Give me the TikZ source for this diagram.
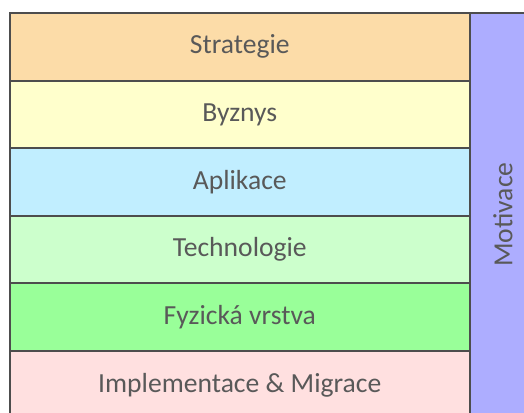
\documentclass[tikz,border=0pt]{standalone}
\usepackage{fontspec}
\setmainfont{Carlito}
\definecolor{edgegray}{HTML}{4D4D4D}
\definecolor{labelgray}{HTML}{595959}
\definecolor{strategiecol}{HTML}{FCDCA8}
\definecolor{byznyscol}{HTML}{FFFFCC}
\definecolor{aplikacecol}{HTML}{C1EEFF}
\definecolor{technologiecol}{HTML}{CCFFCC}
\definecolor{fyzickacol}{HTML}{99FF99}
\definecolor{implcol}{HTML}{FFE0E0}
\definecolor{motivacecol}{HTML}{ADADFF}
\begin{document}
\begin{tikzpicture}[x=1bp, y=-1bp,
  layer/.style={draw=edgegray, line width=2bp, anchor=north west, inner sep=0pt,
    minimum width=459.5bp, minimum height=67.6bp, text=labelgray,
    font=\fontsize{27.6bp}{30bp}\selectfont}]
\useasboundingbox (0,0) rectangle (524,412);
\clip (0,0) rectangle (524,412);
\node[draw=edgegray, fill=motivacecol, line width=2bp, anchor=north west, inner sep=0pt,
  minimum width=72bp, minimum height=410bp] (motivbox) at (468.5,12) {};
\node[text=labelgray, rotate=90, font=\fontsize{27.6bp}{30bp}\selectfont] (motivace) at (503,214.5) {Motivace};
\node[layer, fill=strategiecol] (strategie) at (9,12) {Strategie};
\node[layer, fill=byznyscol] (byznys) at (9,79.6) {Byznys};
\node[layer, fill=aplikacecol] (aplikace) at (9,147.2) {Aplikace};
\node[layer, fill=technologiecol] (technologie) at (9,214.8) {Technologie};
\node[layer, fill=fyzickacol] (fyzicka) at (9,282.4) {Fyzická vrstva};
\node[layer, fill=implcol] (implementace) at (9,350) {Implementace \& Migrace};
\end{tikzpicture}
\end{document}
